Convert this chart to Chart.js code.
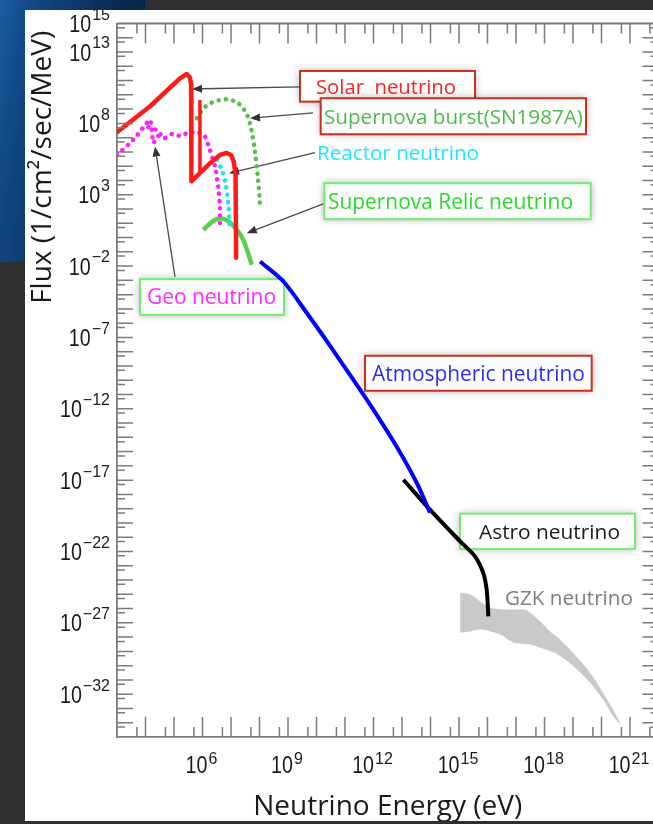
<!DOCTYPE html>
<html><head><meta charset="utf-8">
<script src="https://cdn.jsdelivr.net/npm/chart.js@4.4.1/dist/chart.umd.min.js"></script>
<style>
html,body{margin:0;padding:0;width:653px;height:824px;overflow:hidden;}
body{background:#2f2f2f;position:relative;}
#bg{position:absolute;left:0;top:0;width:145px;height:262px;background:linear-gradient(100deg,#1a5ea3 0%,#124a88 15%,#0b2d5a 55%,#091d3a 100%);}
#panel{position:absolute;left:25px;top:10px;width:640px;height:811px;background:#fff;}
canvas{display:block;}
</style></head><body>
<div id="bg"></div>
<div id="panel"><canvas id="c" width="640" height="811"></canvas></div>
<script>
// All values are log10: energy in eV, flux in 1/cm^2/sec/MeV
const solarLogE = [3.0, 4.16, 5.21, 5.45, 5.56, 5.60, 5.61, 6.26, 6.61, 6.85, 7.0, 7.1, 7.16, 7.18];
const solarLogF = [7.38, 9.2, 11.16, 11.46, 11.22, 10.69, 3.94, 5.2, 5.79, 5.93, 5.79, 5.3, 4.39, -1.42];
const be7LogE = [5.91, 5.91];
const be7LogF = [9.64, 4.5];
const snBurstLogE = [5.80, 6.09, 6.44, 6.85, 7.14, 7.39, 7.61, 7.78, 7.90, 7.99, 8.02];
const snBurstLogF = [8.36, 9.15, 9.54, 9.69, 9.54, 9.15, 8.36, 6.84, 4.97, 3.11, 1.94];
const reactorLogE = [6.51, 6.68, 6.82, 6.91, 6.95];
const reactorLogF = [5.44, 4.74, 3.69, 2.29, 0.82];
const geoLogE = [3.0, 3.57, 4.16, 4.27, 4.44, 4.68, 4.93, 5.21, 5.49, 5.81, 6.09, 6.26, 6.44, 6.55, 6.61, 6.61];
const geoLogF = [5.79, 6.84, 8.24, 6.63, 7.12, 6.98, 7.26, 7.12, 7.33, 7.42, 7.07, 6.14, 4.97, 3.57, 2.17, 0.54];
const geoBranchLogE = [4.10, 4.40, 4.68];
const geoBranchLogF = [7.75, 7.51, 6.86];
const relicLogE = [6.03, 6.33, 6.61, 6.89, 7.18, 7.43, 7.73];
const relicLogF = [0.54, 1.10, 1.36, 1.17, 0.61, -0.16, -1.91];
const atmosLogE = [8.02, 8.84, 9.66, 10.49, 11.29, 12.0, 12.81, 13.52, 13.98];
const atmosLogF = [-1.68, -3.08, -5.29, -7.63, -9.96, -12.07, -14.64, -17.2, -19.28];
const astroLogE = [13.05, 13.98, 15.04, 15.56, 15.85, 15.97, 16.03];
const astroLogF = [-16.97, -19.07, -21.29, -22.34, -23.5, -24.67, -26.54];
const gzkLogE = [15.04, 15.4, 15.75, 16.1, 16.45, 16.9, 17.3, 17.5, 17.85, 18.2, 18.45, 19.0, 19.6, 20.05, 20.4, 20.55, 20.68];
const gzkUpperLogF = [-24.9, -25.02, -25.5, -25.95, -26.05, -26.07, -26.07, -26.3, -26.9, -27.6, -28.0, -29.1, -30.5, -31.9, -33.05, -33.6, -34.2];
const gzkLowerLogF = [-27.7, -27.6, -27.47, -27.6, -27.82, -28.38, -28.48, -28.52, -28.75, -28.99, -29.2, -30.0, -31.2, -32.37, -33.5, -33.9, -34.2];
// tick labels (powers of ten)
const xTickExps = [6, 9, 12, 15, 18, 21];
const yTickExps = [15, 13, 8, 3, -2, -7, -12, -17, -22, -27, -32];
const xAxisTitle = 'Neutrino Energy (eV)';
const yAxisTitle = 'Flux (1/cm\u00B2/sec/MeV) ';

// annotation labels: positions in log10 data units
const notes = [
  {text:'Solar  neutrino', color:'#ff2020', border:'#c8321e', box:[9.421,11.674,15.561,9.524], tx:9.982, w:140, from:[9.421,10.553], to:[5.632,10.413]},
  {text:'Supernova burst(SN1987A)', color:'#4cbb4c', border:'#c8321e', box:[10.147,9.762,19.456,7.241], tx:10.263, w:259, from:[9.877,8.733], to:[7.667,8.361]},
  {text:'Reactor neutrino', color:'#1ee8ff', tx:10.018, ty:5.93, w:162, from:[9.947,5.952], to:[6.930,4.510]},
  {text:'Supernova Relic neutrino', color:'#2ada2a', border:'#6ef06e', box:[10.274,3.810,19.621,1.289], tx:10.404, w:245, from:[10.239,2.360], to:[7.551,0.308]},
  {text:'Geo neutrino', color:'#ff2aff', border:'#6ef06e', box:[3.807,-2.913,8.860,-5.413], tx:4.053, w:129, from:[5.035,-2.75], to:[4.333,6.387]},
  {text:'Atmospheric neutrino', color:'#2b2bff', border:'#c8321e', box:[11.702,-8.284,19.656,-10.735], tx:11.947, w:213},
  {text:'Astro neutrino', color:'#1a1a1a', border:'#6ef06e', box:[15.035,-19.349,21.175,-21.821], tx:15.702, w:141},
  {text:'GZK neutrino', color:'#7d7d7d', tx:16.614, ty:-25.2, w:128}
];

const mk = (le, lf) => le.map((e, i) => ({x: Math.pow(10, e), y: Math.pow(10, lf[i])}));
const dotted = {borderDash:[0.1, 7.2], borderCapStyle:'round', borderWidth:4.5};

function arrow(ctx, x0, y0, x1, y1) {
  const ang = Math.atan2(y1 - y0, x1 - x0), L = 10, W = 4;
  const bx = x1 - L * Math.cos(ang), by = y1 - L * Math.sin(ang);
  ctx.beginPath(); ctx.moveTo(x0, y0); ctx.lineTo(bx, by); ctx.stroke();
  ctx.beginPath(); ctx.moveTo(x1, y1);
  ctx.lineTo(bx - W * Math.sin(ang), by + W * Math.cos(ang));
  ctx.lineTo(bx + W * Math.sin(ang), by - W * Math.cos(ang));
  ctx.closePath(); ctx.fill();
}

function drawNotes(chart) {
  const {ctx, scales: {x: xs, y: ys}} = chart;
  const X = v => xs.getPixelForValue(Math.pow(10, v)), Y = v => ys.getPixelForValue(Math.pow(10, v));
  ctx.save();
  for (const n of notes) {
    let midY;
    if (n.box) {
      const x0 = X(n.box[0]), y0 = Y(n.box[1]), x1 = X(n.box[2]), y1 = Y(n.box[3]);
      ctx.save();
      ctx.shadowColor = 'rgba(0,0,0,0.35)'; ctx.shadowBlur = 8;
      ctx.fillStyle = '#fff'; ctx.fillRect(x0, y0, x1 - x0, y1 - y0);
      ctx.restore();
      ctx.strokeStyle = n.border; ctx.lineWidth = 2;
      ctx.strokeRect(x0, y0, x1 - x0, y1 - y0);
      midY = (y0 + y1) / 2;
    } else {
      midY = Y(n.ty);
    }
    ctx.font = '18px "Open Sans", "Noto Sans", sans-serif';
    const size = 18 * n.w / ctx.measureText(n.text).width;
    ctx.font = size.toFixed(2) + 'px "Open Sans", "Noto Sans", sans-serif';
    ctx.fillStyle = n.color; ctx.textAlign = 'left'; ctx.textBaseline = 'alphabetic';
    ctx.fillText(n.text, X(n.tx), midY + size * 0.36);
    if (n.from) {
      ctx.strokeStyle = '#4a4a4a'; ctx.fillStyle = '#333'; ctx.lineWidth = 1.3;
      arrow(ctx, X(n.from[0]), Y(n.from[1]), X(n.to[0]), Y(n.to[1]));
    }
  }
  ctx.restore();
}

function powParts(exp) { return ['10', exp < 0 ? '\u2212' + (-exp) : String(exp)]; }
const BASE_FONT = '24px "Liberation Sans", Arial, sans-serif';
const EXP_FONT = '16px "Liberation Sans", Arial, sans-serif';
const SQ = 0.82;

function drawAxes(chart) {
  const {ctx, chartArea: a, scales: {x: xs, y: ys}} = chart;
  ctx.save();
  ctx.strokeStyle = '#7b7b7b'; ctx.lineWidth = 1.8;
  ctx.beginPath();
  ctx.moveTo(a.left, a.top); ctx.lineTo(a.right, a.top); ctx.lineTo(a.right, a.bottom);
  ctx.stroke();
  ctx.lineWidth = 1.5;
  ctx.beginPath();
  for (let n = 3; n <= 21; n++) {
    const marks = [[5 * Math.pow(10, n), 10]];
    if (n > 3) marks.push([Math.pow(10, n), 20]);
    for (const [v, len] of marks) {
      const p = xs.getPixelForValue(v);
      ctx.moveTo(p, a.bottom); ctx.lineTo(p, a.bottom - len);
      ctx.moveTo(p, a.top); ctx.lineTo(p, a.top + len);
    }
  }
  for (let n = -35; n <= 14; n++) {
    const marks = [[5 * Math.pow(10, n), 8]];
    if (n > -35) marks.push([Math.pow(10, n), 16]);
    for (const [v, len] of marks) {
      const p = ys.getPixelForValue(v);
      ctx.moveTo(a.left, p); ctx.lineTo(a.left + len, p);
      ctx.moveTo(a.right, p); ctx.lineTo(a.right - len, p);
    }
  }
  ctx.stroke();

  ctx.fillStyle = '#1a1a1a'; ctx.textBaseline = 'middle'; ctx.textAlign = 'left';
  const draw = (base, ex, left, by, ey) => {
    ctx.font = BASE_FONT;
    const bw = ctx.measureText(base).width * SQ;
    ctx.save(); ctx.translate(left, by); ctx.scale(SQ, 1); ctx.fillText(base, 0, 0); ctx.restore();
    ctx.font = EXP_FONT;
    ctx.fillText(ex, left + bw + 1, ey);
  };
  const widths = (base, ex) => {
    ctx.font = BASE_FONT; const bw = ctx.measureText(base).width * SQ;
    ctx.font = EXP_FONT; const ew = ctx.measureText(ex).width;
    return [bw, ew];
  };
  for (const e of yTickExps) {
    const [b, ex] = powParts(e);
    const [bw, ew] = widths(b, ex);
    const p = ys.getPixelForValue(Math.pow(10, e));
    const right = a.left - 7;
    draw(b, ex, right - ew - bw - 1, p + 2, p - 8);
  }
  for (const e of xTickExps) {
    const [b, ex] = powParts(e);
    const [bw, ew] = widths(b, ex);
    const p = xs.getPixelForValue(Math.pow(10, e));
    draw(b, ex, p - (bw + ew + 1) / 2 - 1, a.bottom + 29.5, a.bottom + 23);
  }
  ctx.restore();
}

const decoPlugin = {
  id: 'deco',
  beforeDatasetsDraw(chart) { drawNotes(chart); },
  afterDatasetsDraw(chart) { drawAxes(chart); }
};

new Chart(document.getElementById('c'), {
  type: 'line',
  data: {
    datasets: [
      {label:'Solar neutrino', data: mk(solarLogE, solarLogF), borderColor:'#ff1a1a', borderWidth:4.5, tension:0, borderJoinStyle:'round', borderCapStyle:'round'},
      {label:'Solar 7Be line', data: mk(be7LogE, be7LogF), borderColor:'#ff1a1a', borderWidth:3.5, tension:0},
      {label:'Supernova burst', data: mk(snBurstLogE, snBurstLogF), borderColor:'#55bf48', tension:0.35, ...dotted},
      {label:'Reactor neutrino', data: mk(reactorLogE, reactorLogF), borderColor:'#10e6ff', tension:0.3, ...dotted},
      {label:'Geo neutrino', data: mk(geoLogE, geoLogF), borderColor:'#ff22ff', tension:0.15, ...dotted},
      {label:'Geo neutrino (branch)', data: mk(geoBranchLogE, geoBranchLogF), borderColor:'#ff22ff', tension:0.2, ...dotted},
      {label:'Supernova Relic neutrino', data: mk(relicLogE, relicLogF), borderColor:'#5ccd4e', borderWidth:4.5, tension:0.35},
      {label:'Atmospheric neutrino', data: mk(atmosLogE, atmosLogF), borderColor:'#0000ff', borderWidth:4, tension:0.3},
      {label:'Astro neutrino', data: mk(astroLogE, astroLogF), borderColor:'#000000', borderWidth:4, tension:0.3},
      {label:'GZK upper', data: mk(gzkLogE, gzkUpperLogF), borderWidth:0, borderColor:'rgba(0,0,0,0)', backgroundColor:'#c9c9c9', fill:'+1', tension:0.3},
      {label:'GZK lower', data: mk(gzkLogE, gzkLowerLogF), borderWidth:0, borderColor:'rgba(0,0,0,0)', fill:false, tension:0.3}
    ]
  },
  options: {
    responsive: false, animation: false, devicePixelRatio: 1, events: [],
    layout: {padding: {top: 13.5, right: 6.5, left: 0, bottom: 0}},
    elements: {point: {radius: 0}},
    plugins: {legend: {display: false}, tooltip: {enabled: false}},
    scales: {
      x: {
        type: 'logarithmic', min: 1e3, max: 1e22,
        ticks: {display: false},
        grid: {drawOnChartArea: false, drawTicks: false},
        border: {display: true, color: '#7b7b7b', width: 1.8},
        title: {display: true, text: xAxisTitle, color: '#1a1a1a', font: {family: '"Open Sans", "Noto Sans", sans-serif', size: 28}, padding: {top: 0, bottom: -3}},
        afterFit(s) { s.height = 84; }
      },
      y: {
        type: 'logarithmic', min: 1e-35, max: 1e15,
        ticks: {display: false},
        grid: {drawOnChartArea: false, drawTicks: false},
        border: {display: true, color: '#7b7b7b', width: 1.8},
        title: {display: true, text: yAxisTitle, align: 'end', color: '#1a1a1a', font: {family: '"Open Sans", "Noto Sans", sans-serif', size: 28}, padding: {top: 1, bottom: 0}},
        afterFit(s) { s.width = 92; }
      }
    }
  },
  plugins: [decoPlugin]
});
</script></body></html>
